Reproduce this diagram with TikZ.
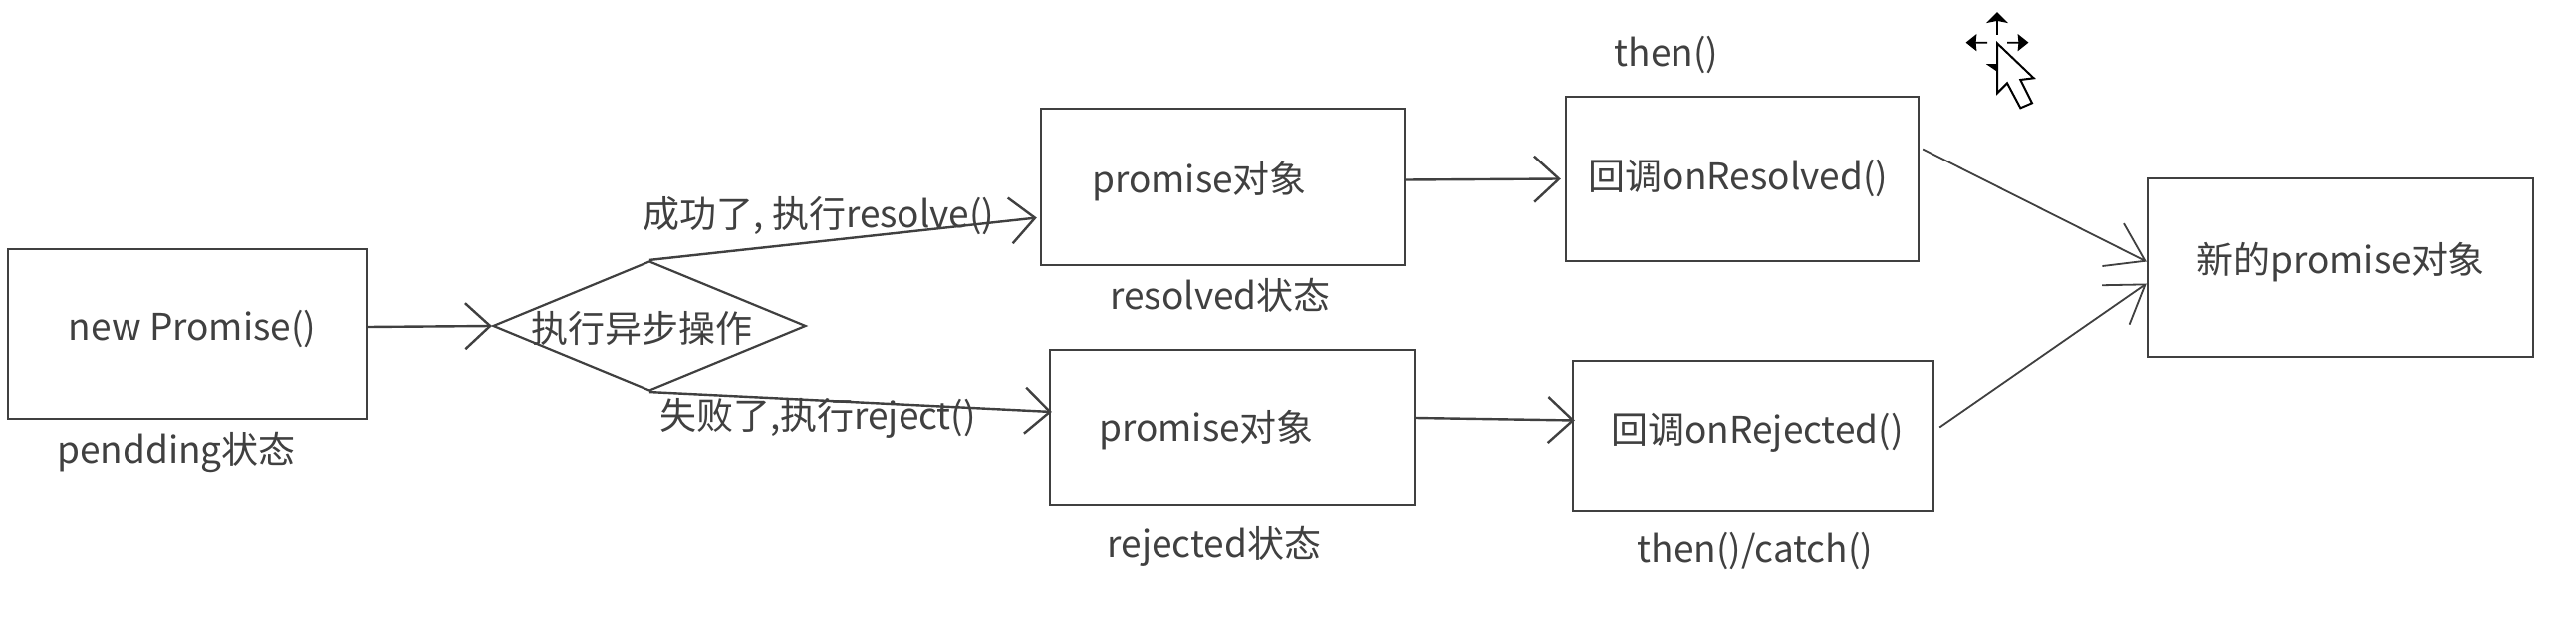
\documentclass[tikz,border=0pt]{standalone}
\usepackage{fontspec}
\setmainfont{Noto Sans CJK SC}
\usepackage{tikz}
\usetikzlibrary{shapes.geometric,arrows.meta}

\definecolor{inkgray}{HTML}{404040}

\begin{document}
\begin{tikzpicture}[
  x=0.5pt,y=-0.5pt,
  box/.style={
    draw=inkgray, line width=1.2pt, inner sep=0pt,
  },
  decision/.style={
    diamond, draw=inkgray, line width=1.1pt, inner sep=0pt,
    minimum width=157pt, minimum height=65pt,
  },
  txt/.style={
    text=inkgray, font=\fontsize{18.5}{22}\selectfont, inner sep=0pt, yshift=-0.75pt,
  },
  flow/.style={
    draw=inkgray, line width=1.2pt,
    -{Straight Barb[length=12.5pt,width=23pt]},
  },
  slant/.style={
    draw=inkgray, line width=0.9pt,
    -{Straight Barb[length=18pt,width=24pt]},
  },
  pointer/.style={
    draw=black, fill=white, line width=1pt, line join=miter,
  },
  moveglyph/.style={
    draw=black, fill=black, line width=0.9pt,
  }
  ]
  \useasboundingbox (0,0) rectangle (2586,646);
  \node [box, minimum width=180pt, minimum height=85pt] (newbox) at (188,335) {};
  \node [decision] (async) at (652,327) {};
  \node [box, minimum width=182.5pt, minimum height=78.5pt] (resbox) at (1227.5,187.5) {};
  \node [box, minimum width=183pt, minimum height=78pt] (rejbox) at (1237,429) {};
  \node [box, minimum width=177pt, minimum height=82.5pt] (onres) at (1749,179.5) {};
  \node [box, minimum width=181pt, minimum height=75.5pt] (onrej) at (1760,437.5) {};
  \node [box, minimum width=193.5pt, minimum height=89.5pt] (newobj) at (2349.5,268.5) {};

  \node [txt] (newtxt) at (193,328) {new Promise()};
  \node [txt] (pendtxt) at (177,452) {pendding状态};
  \node [txt] (asynctxt) at (644,328) {执行异步操作};
  \node [txt] (oktxt) at (822,215) {成功了, 执行resolve()};
  \node [txt] (failtxt) at (821,418) {失败了,执行reject()};
  \node [txt] (restxt) at (1204,181) {promise对象};
  \node [txt] (resstate) at (1225,295) {resolved状态};
  \node [txt] (rejtxt) at (1211,430) {promise对象};
  \node [txt] (rejstate) at (1219,547) {rejected状态};
  \node [txt] (onrestxt) at (1745,177) {回调onResolved()};
  \node [txt] (thentxt) at (1673,53) {then()};
  \node [txt] (onrejtxt) at (1764,432) {回调onRejected()};
  \node [txt] (catchtxt) at (1762,551) {then()/catch()};
  \node [txt] (newobjtxt) at (2350,262) {新的promise对象};

  \draw [flow] ([yshift=3.5pt]newbox.east) -- (async.west);
  \draw [flow] (async.north) -- ([xshift=-1.5pt,yshift=-15.5pt]resbox.west);
  \draw [flow] (async.south) -- ([xshift=1.5pt,yshift=8pt]rejbox.west);
  \draw [flow] ([yshift=3.5pt]resbox.east) -- ([xshift=-2pt]onres.west);
  \draw [flow] ([yshift=5pt]rejbox.east) -- ([xshift=1.5pt,yshift=8pt]onrej.west);
  \draw [slant] ([xshift=1.5pt,yshift=15pt]onres.east) -- ([yshift=3pt]newobj.west);
  \draw [slant] ([xshift=2.5pt,yshift=4.5pt]onrej.east) -- ([yshift=-8pt]newobj.west);

  % mouse cursor
  \begin{scope}[shift={(1960,0)},scale=0.3333]
    \draw [moveglyph] (135,105) -- (135,60) -- (110,65) -- (135,40) -- (160,65) -- (135,60);
    \draw [moveglyph] (105,128) -- (68,128) -- (70,108) -- (45,128) -- (70,148) -- (68,128);
    \draw [moveglyph] (165,128) -- (202,128) -- (200,108) -- (225,128) -- (200,148) -- (202,128);
    \draw [moveglyph] (110,195) -- (135,195) -- (135,212) -- cycle;
    \draw [pointer] (135,130) -- (135,280) -- (165,250) -- (205,325) -- (240,310) -- (205,240) -- (245,235) -- cycle;
  \end{scope}
\end{tikzpicture}
\end{document}
